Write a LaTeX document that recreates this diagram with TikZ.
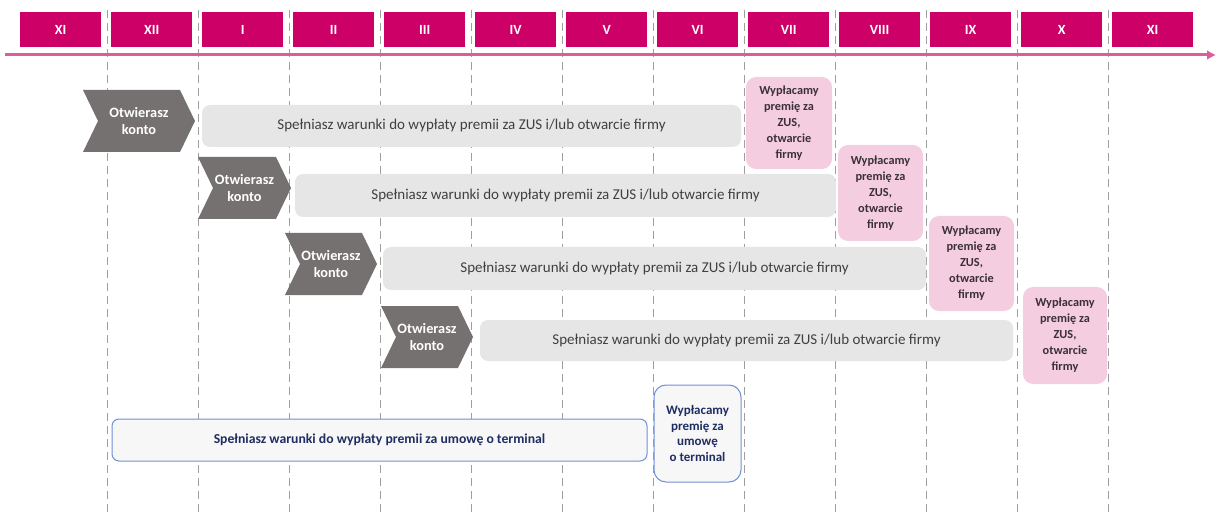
\documentclass[tikz,border=0pt]{standalone}
\usepackage{fontspec}
\setmainfont{Carlito}
\usetikzlibrary{arrows.meta}
\begin{document}
\begin{tikzpicture}[x=1pt,y=-1pt,
  month/.style={fill=monthc,text=white,font=\fontsize{14}{16}\selectfont\bfseries,minimum width=81pt,minimum height=35pt,inner sep=0pt,anchor=north west},
  vline/.style={draw=gray!75,line width=0.8pt,dash pattern=on 8pt off 5pt},
  greybar/.style={fill=barc,rounded corners=8pt,text=bartxt,font=\fontsize{15}{17}\selectfont,inner sep=0pt},
  chevtxt/.style={text=white,font=\fontsize{14.3}{17}\selectfont\bfseries,align=center,inner sep=0pt},
  paybox/.style={fill=payc,rounded corners=10pt,text=paytxt,font=\fontsize{12.3}{16}\selectfont\bfseries,align=center,inner sep=0pt},
  bluebar/.style={fill=bluefill,draw=blueline,line width=1pt,rounded corners=7pt,text=bluetxt,font=\fontsize{13.7}{15}\selectfont\bfseries,inner sep=0pt},
  bluebox/.style={fill=bluefill,draw=blueline,line width=1pt,rounded corners=12pt,text=bluetxt,font=\fontsize{13}{15.5}\selectfont\bfseries,align=center,inner sep=0pt}
]
\definecolor{monthc}{HTML}{CC0066}
\definecolor{axisc}{HTML}{DD5C9C}
\definecolor{barc}{HTML}{E6E6E6}
\definecolor{bartxt}{HTML}{404040}
\definecolor{chevc}{HTML}{767171}
\definecolor{payc}{HTML}{F4CDE1}
\definecolor{paytxt}{HTML}{3B3035}
\definecolor{bluefill}{HTML}{F7F7F7}
\definecolor{blueline}{HTML}{6F90D8}
\definecolor{bluetxt}{HTML}{1F2D63}
\useasboundingbox (0,0) rectangle (1216,513);
% dashed month separators
\foreach \i in {0,...,11}{
  \draw[vline] ({107+91*\i},10) -- ({107+91*\i},513);
}
% month boxes
\foreach \lbl [count=\i from 0] in {XI,XII,I,II,III,IV,V,VI,VII,VIII,IX,X,XI}{
  \node[month] (m\i) at ({20+91*\i},12) {\lbl};
}
% axis
\coordinate (axs) at (5,55);
\coordinate (axe) at (1216,55);
\draw[axisc,line width=3pt,-{Latex[length=9pt,width=10pt]}] (axs) -- (axe);
% chevrons
\newcommand{\chevron}[5]{% name, xl, yt, xr, yb
  \fill[chevc] (#2,#3) -- ({#4-15},#3) -- (#4,{(#3+#5)/2}) -- ({#4-15},#5) -- (#2,#5) -- ({#2+15},{(#3+#5)/2}) -- cycle;
  \node[chevtxt] (#1) at ({(#2+#4)/2},{(#3+#5)/2}) {Otwierasz\\konto};
}
\chevron{c1}{83}{90}{195}{152}
\chevron{c2}{198}{157}{291}{219}
\chevron{c3}{285}{233}{377}{295}
\chevron{c4}{381}{306}{473}{368}
% grey bars
\node[greybar,minimum width=539pt,minimum height=42pt] (g1) at ({(202+741)/2},{(105+147)/2}) {Spełniasz warunki do wypłaty premii za ZUS i/lub otwarcie firmy};
\node[greybar,minimum width=541pt,minimum height=43pt] (g2) at ({(295+836)/2},{(174+217)/2}) {Spełniasz warunki do wypłaty premii za ZUS i/lub otwarcie firmy};
\node[greybar,minimum width=543pt,minimum height=43pt] (g3) at ({(383+926)/2},{(247+290)/2}) {Spełniasz warunki do wypłaty premii za ZUS i/lub otwarcie firmy};
\node[greybar,minimum width=533pt,minimum height=41pt] (g4) at ({(480+1013)/2},{(320+361)/2}) {Spełniasz warunki do wypłaty premii za ZUS i/lub otwarcie firmy};
% pay boxes
\node[paybox,minimum width=86pt,minimum height=92pt] (p1) at ({(746+832)/2},{(77+169)/2}) {Wypłacamy\\premię za\\ZUS,\\otwarcie\\firmy};
\node[paybox,minimum width=85pt,minimum height=96pt] (p2) at ({(838+923)/2},{(145+241)/2}) {Wypłacamy\\premię za\\ZUS,\\otwarcie\\firmy};
\node[paybox,minimum width=85pt,minimum height=95pt] (p3) at ({(929+1014)/2},{(216+311)/2}) {Wypłacamy\\premię za\\ZUS,\\otwarcie\\firmy};
\node[paybox,minimum width=84pt,minimum height=97pt] (p4) at ({(1023+1107)/2},{(287+384)/2}) {Wypłacamy\\premię za\\ZUS,\\otwarcie\\firmy};
% terminal
\node[bluebar,minimum width=535pt,minimum height=42pt] (t1) at ({(112+647)/2},{(419+461)/2}) {Spełniasz warunki do wypłaty premii za umowę o terminal};
\node[bluebox,minimum width=87pt,minimum height=97pt] (t2) at ({(654+741)/2},{(385+482)/2}) {Wypłacamy\\premię za\\umowę\\o terminal};
\end{tikzpicture}
\end{document}
